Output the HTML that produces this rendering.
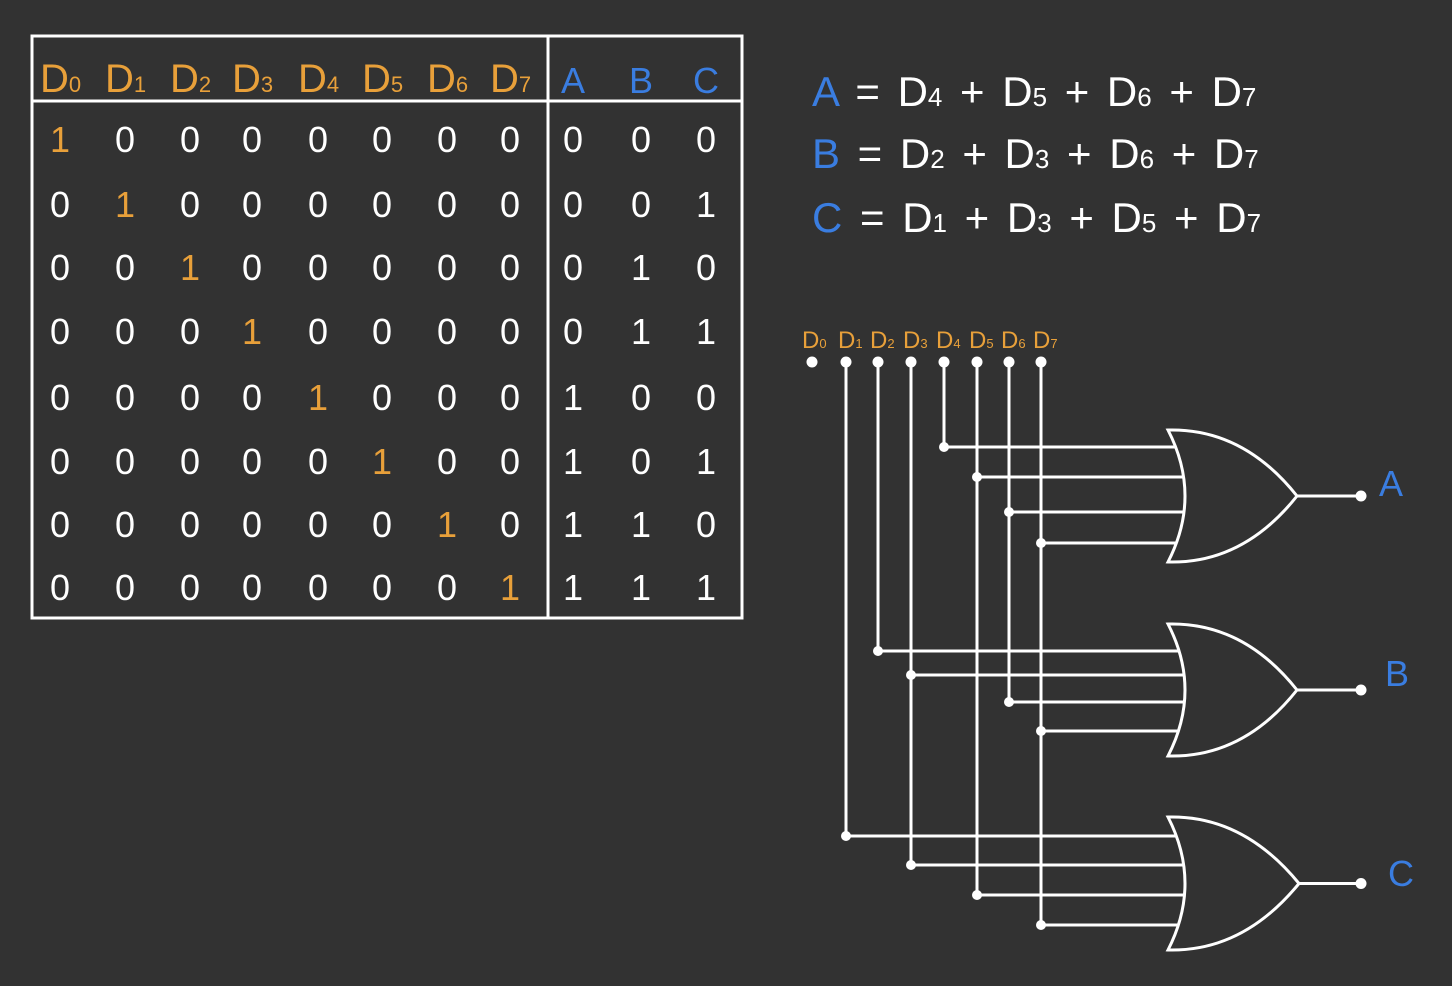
<!DOCTYPE html>
<html><head><meta charset="utf-8"><style>
html,body{margin:0;padding:0;background:#323232;}
svg{display:block;font-family:"Liberation Sans",sans-serif;}
</style></head><body>
<svg id="s" width="1452" height="986" viewBox="0 0 1452 986">
<rect x="0" y="0" width="1452" height="986" fill="#323232"/>
<g stroke="#fff" stroke-width="3" fill="none">
<rect x="32" y="36" width="710" height="582"/>
<line x1="32" y1="101" x2="742" y2="101"/>
<line x1="548" y1="36" x2="548" y2="618"/>
</g>
<g id="tbl"></g>
<g font-size="42" fill="#fff" style="word-spacing:6px">
<text x="812" y="106"><tspan fill="#3a7de0">A</tspan> = D<tspan font-size="26">4</tspan> + D<tspan font-size="26">5</tspan> + D<tspan font-size="26">6</tspan> + D<tspan font-size="26">7</tspan></text>
<text x="812" y="168"><tspan fill="#3a7de0">B</tspan> = D<tspan font-size="26">2</tspan> + D<tspan font-size="26">3</tspan> + D<tspan font-size="26">6</tspan> + D<tspan font-size="26">7</tspan></text>
<text x="812" y="232"><tspan fill="#3a7de0">C</tspan> = D<tspan font-size="26">1</tspan> + D<tspan font-size="26">3</tspan> + D<tspan font-size="26">5</tspan> + D<tspan font-size="26">7</tspan></text>
</g>
<g id="circ"></g>
</svg>
<script>
const rows=[[1,0,0,0,0,0,0,0],[0,1,0,0,0,0,0,0],[0,0,1,0,0,0,0,0],[0,0,0,1,0,0,0,0],[0,0,0,0,1,0,0,0],[0,0,0,0,0,1,0,0],[0,0,0,0,0,0,1,0],[0,0,0,0,0,0,0,1]];
const outputs=[[0,0,0],[0,0,1],[0,1,0],[0,1,1],[1,0,0],[1,0,1],[1,1,0],[1,1,1]];
const inCols=[60,125,190,252,318,382,447,510];
const outCols=[573,641,706];
const rowY=[140,205,268,332,398,462,525,588];
const outNames=["A","B","C"];
const NS="http://www.w3.org/2000/svg";
function mk(p,tag,at,txt){const e=document.createElementNS(NS,tag);for(const k in at)e.setAttribute(k,at[k]);if(txt!==undefined)e.textContent=txt;p.appendChild(e);return e;}
const tbl=document.getElementById('tbl');
const OR="#e8a03a",BL="#3a7de0";
inCols.forEach((x,i)=>{const t=mk(tbl,'text',{x:x-20,y:92,'font-size':40,fill:OR});

t.textContent='D';mk(t,'tspan',{'font-size':22},String(i));});
outCols.forEach((x,i)=>{const t=mk(tbl,'text',{x:x,y:93,'font-size':36,fill:BL,'text-anchor':'middle'},outNames[i]);
});
rows.forEach((r,ri)=>{r.forEach((v,ci)=>{const t=mk(tbl,'text',{x:inCols[ci],y:rowY[ri]+12,'font-size':36,'text-anchor':'middle',fill:v?OR:'#fff'},String(v));
});
outputs[ri].forEach((v,ci)=>{const t=mk(tbl,'text',{x:outCols[ci],y:rowY[ri]+12,'font-size':36,'text-anchor':'middle',fill:'#fff'},String(v));
});});

const dX=[812,846,878,911,944,977,1009,1041];
const dotY=362;
const gates=[{name:"A",top:430,bot:562,tip:1297,inputs:[[4,447],[5,477],[6,512],[7,543]],lx:1391,ly:496},
{name:"B",top:624,bot:756,tip:1297,inputs:[[2,651],[3,675],[6,702],[7,731]],lx:1397,ly:686},
{name:"C",top:817,bot:950,tip:1299,inputs:[[1,836],[3,865],[5,895],[7,925]],lx:1401,ly:886}];
const c=document.getElementById('circ');
dX.forEach((x,i)=>{const t=mk(c,'text',{x:x-(i==0?10:8),y:348,'font-size':24,fill:OR});

t.textContent='D';mk(t,'tspan',{'font-size':13},String(i));
let maxY=0;gates.forEach(g=>g.inputs.forEach(([d,y])=>{if(d===i&&y>maxY)maxY=y;}));
if(maxY){const l=mk(c,'line',{x1:x,y1:dotY,x2:x,y2:maxY,stroke:'#fff','stroke-width':3});
}
const d=mk(c,'circle',{cx:x,cy:dotY,r:5.5,fill:'#fff'});
});
gates.forEach(g=>{
g.inputs.forEach(([d,y])=>{const l=mk(c,'line',{x1:dX[d],y1:y,x2:1200,y2:y,stroke:'#fff','stroke-width':3});

const j=mk(c,'circle',{cx:dX[d],cy:y,r:5,fill:'#fff'});
});
const mid=(g.top+g.bot)/2,b=1168;
const p=mk(c,'path',{d:`M${b},${g.top} Q${b+75},${g.top-2} ${g.tip},${mid} Q${b+75},${g.bot+2} ${b},${g.bot} Q${b+34},${mid} ${b},${g.top} Z`,fill:'#323232',stroke:'#fff','stroke-width':3});

const o=mk(c,'line',{x1:g.tip,y1:mid,x2:1361,y2:mid,stroke:'#fff','stroke-width':3});

const od=mk(c,'circle',{cx:1361,cy:mid,r:5.5,fill:'#fff'});

const t=mk(c,'text',{x:g.lx,y:g.ly,'font-size':36,fill:BL,'text-anchor':'middle'},g.name);
});
</script>
</body></html>
